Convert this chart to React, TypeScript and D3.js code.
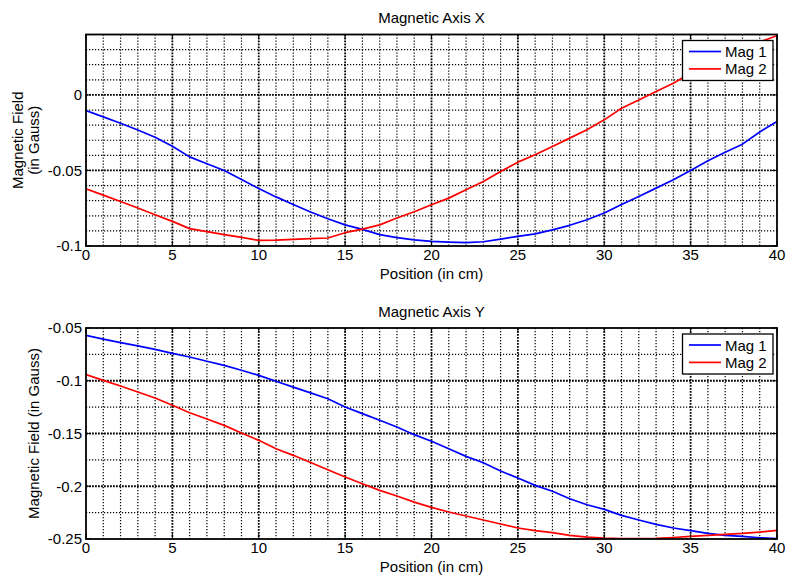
import React from "react";
import * as d3 from "d3";

const positions = [0,1,2,3,4,5,6,7,8,9,10,11,12,13,14,15,16,17,18,19,20,21,22,23,24,25,26,27,28,29,30,31,32,33,34,35,36,37,38,39,40];

const axisXMag1 = [-0.0104,-0.0145,-0.0187,-0.0232,-0.0280,-0.0340,-0.0410,-0.0455,-0.0500,-0.0560,-0.0620,-0.0675,-0.0725,-0.0775,-0.0820,-0.0860,-0.0890,-0.0925,-0.0945,-0.0960,-0.0970,-0.0975,-0.0978,-0.0972,-0.0955,-0.0936,-0.0920,-0.0893,-0.0863,-0.0826,-0.0782,-0.0725,-0.0672,-0.0617,-0.0562,-0.0500,-0.0436,-0.0379,-0.0326,-0.0245,-0.0176];
const axisXMag2 = [-0.0621,-0.0663,-0.0705,-0.0749,-0.0793,-0.0837,-0.0885,-0.0905,-0.0925,-0.0943,-0.0963,-0.0961,-0.0956,-0.0951,-0.0947,-0.0912,-0.0888,-0.0860,-0.0815,-0.0773,-0.0727,-0.0683,-0.0628,-0.0573,-0.0507,-0.0445,-0.0396,-0.0341,-0.0286,-0.0231,-0.0165,-0.0088,-0.0033,0.0022,0.0077,0.0143,0.0203,0.0255,0.0305,0.0350,0.0392];
const axisYMag1 = [-0.0570,-0.0605,-0.0639,-0.0670,-0.0702,-0.0740,-0.0775,-0.0815,-0.0854,-0.0900,-0.0949,-0.1005,-0.1060,-0.1115,-0.1170,-0.1249,-0.1312,-0.1375,-0.1439,-0.1511,-0.1574,-0.1644,-0.1717,-0.1777,-0.1856,-0.1922,-0.1992,-0.2048,-0.2118,-0.2175,-0.2219,-0.2276,-0.2320,-0.2361,-0.2396,-0.2421,-0.2447,-0.2466,-0.2475,-0.2488,-0.2497];
const axisYMag2 = [-0.0942,-0.0996,-0.1050,-0.1107,-0.1164,-0.1233,-0.1303,-0.1363,-0.1423,-0.1495,-0.1565,-0.1644,-0.1707,-0.1775,-0.1843,-0.1913,-0.1976,-0.2039,-0.2093,-0.2150,-0.2200,-0.2244,-0.2282,-0.2320,-0.2358,-0.2396,-0.2420,-0.2440,-0.2466,-0.2482,-0.2491,-0.2496,-0.2497,-0.2495,-0.2486,-0.2475,-0.2466,-0.2456,-0.2447,-0.2434,-0.2418];

const xTicks = [0,5,10,15,20,25,30,35,40];
const yTicksX = [-0.1,-0.05,0];
const yTicksY = [-0.25,-0.2,-0.15,-0.1,-0.05];
const seriesNames = ["Mag 1","Mag 2"];
const seriesColors = ["#0000ff","#ff0000"];

const W = 788, H = 583;
const xLeft = 86, xRight = 777;
const FONT = "Arial, 'Liberation Sans', Helvetica, sans-serif";

type PanelProps = {
  id: string;
  top: number;
  bottom: number;
  yDomain: [number, number];
  yTicks: number[];
  yMinorStep: number;
  title: string;
  yLabel: string[];
  yLabelX: number;
  s1: number[];
  s2: number[];
};

function near(a: number, b: number) { return Math.abs(a - b) < 1e-6; }
function fmt(v: number) { return String(+v.toFixed(4)); }

function Panel(p: PanelProps) {
  const x = d3.scaleLinear().domain([0, 40]).range([xLeft, xRight]);
  const y = d3.scaleLinear().domain(p.yDomain).range([p.bottom, p.top]);
  const xMinor = d3.range(1, 40).filter(v => !xTicks.some(t => near(t, v)));
  const nMinor = Math.round((p.yDomain[1] - p.yDomain[0]) / p.yMinorStep);
  const yMinor = d3.range(1, nMinor).map(i => p.yDomain[0] + i * p.yMinorStep)
    .filter(v => !p.yTicks.some(t => near(t, v)));
  const xMajorInner = xTicks.filter(t => t > 0 && t < 40);
  const yMajorInner = p.yTicks.filter(t => t > p.yDomain[0] + 1e-9 && t < p.yDomain[1] - 1e-9);
  const line = d3.line<number>().x((_, i) => x(positions[i])).y(d => y(d));
  const cx = (xLeft + xRight) / 2;
  const cy = (p.top + p.bottom) / 2;
  const series = [p.s1, p.s2];
  const lgTop = p.top + 6;
  return (
    <g>
      <defs>
        <clipPath id={p.id}>
          <rect x={xLeft} y={p.top} width={xRight - xLeft} height={p.bottom - p.top} />
        </clipPath>
      </defs>
      <rect x={xLeft} y={p.top} width={xRight - xLeft} height={p.bottom - p.top} fill="#fff" />
      {/* minor grid */}
      {xMinor.map(v => (
        <line key={"xm" + v} x1={x(v)} x2={x(v)} y1={p.top} y2={p.bottom} stroke="#000" strokeWidth={1.2} strokeDasharray="1.2,1.8" />
      ))}
      {yMinor.map(v => (
        <line key={"ym" + v} x1={xLeft} x2={xRight} y1={y(v)} y2={y(v)} stroke="#000" strokeWidth={1.2} strokeDasharray="1.2,1.8" />
      ))}
      {/* major grid */}
      {xMajorInner.map(v => (
        <line key={"xM" + v} x1={x(v)} x2={x(v)} y1={p.top} y2={p.bottom} stroke="#000" strokeWidth={1.8} strokeDasharray="1.8,1.2" />
      ))}
      {yMajorInner.map(v => (
        <line key={"yM" + v} x1={xLeft} x2={xRight} y1={y(v)} y2={y(v)} stroke="#000" strokeWidth={1.8} strokeDasharray="1.8,1.2" />
      ))}
      {/* data */}
      <g clipPath={`url(#${p.id})`}>
        {series.map((s, i) => (
          <path key={i} d={line(s) || ""} fill="none" stroke={seriesColors[i]} strokeWidth={1.7} strokeLinejoin="round" />
        ))}
      </g>
      {/* ticks */}
      {xTicks.map(v => (
        <g key={"xt" + v}>
          <line x1={x(v)} x2={x(v)} y1={p.bottom} y2={p.bottom - 5} stroke="#000" strokeWidth={1} />
          <line x1={x(v)} x2={x(v)} y1={p.top} y2={p.top + 5} stroke="#000" strokeWidth={1} />
          <text x={x(v)} y={p.bottom + 14} textAnchor="middle" fontSize={15} fontFamily={FONT} fill="#000">{fmt(v)}</text>
        </g>
      ))}
      {p.yTicks.map(v => (
        <g key={"yt" + v}>
          <line x1={xLeft} x2={xLeft + 5} y1={y(v)} y2={y(v)} stroke="#000" strokeWidth={1} />
          <line x1={xRight} x2={xRight - 5} y1={y(v)} y2={y(v)} stroke="#000" strokeWidth={1} />
          <text x={82} y={y(v)} dy="0.35em" textAnchor="end" fontSize={15} fontFamily={FONT} fill="#000">{fmt(v)}</text>
        </g>
      ))}
      {/* box */}
      <rect x={xLeft} y={p.top} width={xRight - xLeft} height={p.bottom - p.top} fill="none" stroke="#000" strokeWidth={1.8} />
      {/* labels */}
      <text x={cx} y={p.top - 11.5} textAnchor="middle" fontSize={15} fontFamily={FONT} fill="#000">{p.title}</text>
      <text x={cx} y={p.bottom + 33} textAnchor="middle" fontSize={15} fontFamily={FONT} fill="#000">Position (in cm)</text>
      <g transform={`translate(${p.yLabelX},${cy}) rotate(-90)`}>
        {p.yLabel.map((t, i) => (
          <text key={i} x={0} y={i * 16.5} textAnchor="middle" fontSize={15} fontFamily={FONT} fill="#000">{t}</text>
        ))}
      </g>
      {/* legend */}
      <rect x={682.5} y={lgTop} width={90.5} height={40} fill="#fff" stroke="#000" strokeWidth={1.3} />
      {seriesNames.map((n, i) => (
        <g key={n}>
          <line x1={689} x2={721} y1={lgTop + 11 + i * 17.4} y2={lgTop + 11 + i * 17.4} stroke={seriesColors[i]} strokeWidth={1.7} />
          <text x={725} y={lgTop + 16.5 + i * 17.4} fontSize={15} fontFamily={FONT} fill="#000">{n}</text>
        </g>
      ))}
    </g>
  );
}

export default function App() {
  return (
    <div style={{ position: "absolute", left: 0, top: 0 }}>
      <svg width={W} height={H} viewBox={`0 0 ${W} ${H}`} style={{ display: "block", background: "#fff" }}>
        <rect x={0} y={0} width={W} height={H} fill="#fff" />
        <Panel id="clipX" top={34.5} bottom={246} yDomain={[-0.1, 0.04]} yTicks={yTicksX} yMinorStep={0.01}
          title="Magnetic Axis X" yLabel={["Magnetic Field", "(in Gauss)"]} yLabelX={22.5}
          s1={axisXMag1} s2={axisXMag2} />
        <Panel id="clipY" top={328} bottom={539} yDomain={[-0.25, -0.05]} yTicks={yTicksY} yMinorStep={0.025}
          title="Magnetic Axis Y" yLabel={["Magnetic Field (in Gauss)"]} yLabelX={38.5}
          s1={axisYMag1} s2={axisYMag2} />
      </svg>
    </div>
  );
}
